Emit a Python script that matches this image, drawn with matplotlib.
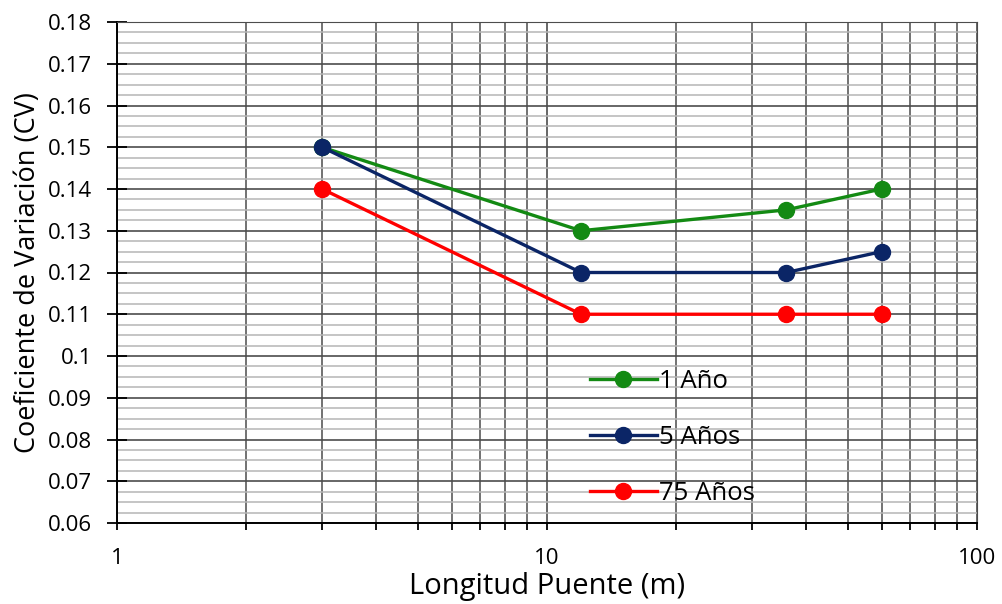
import matplotlib.pyplot as plt
from matplotlib.ticker import FixedLocator, NullFormatter, MultipleLocator, FormatStrFormatter

plt.rcParams['font.family'] = ['Open Sans', 'DejaVu Sans']

longitud = [3, 12, 36, 60]
cv_1 = [0.15, 0.13, 0.135, 0.14]
cv_5 = [0.15, 0.12, 0.12, 0.125]
cv_75 = [0.14, 0.11, 0.11, 0.11]
labels = ['1 Año', '5 Años', '75 Años']
colors = ['#138a13', '#0b2566', '#ff0000']

fig = plt.figure(figsize=(10.02, 6.04), dpi=100)
ax = fig.add_axes([117 / 1002, 1 - 523 / 604, 860 / 1002, 501 / 604])

for y, lbl, c in zip([cv_1, cv_5, cv_75], labels, colors):
    ax.plot(longitud, y, color=c, lw=2.4, marker='o', markersize=11.5, label=lbl, zorder=3)

ax.set_xscale('log')
ax.set_xlim(1, 100)
ax.set_ylim(0.06, 0.18)
ax.xaxis.set_major_locator(FixedLocator([1, 10, 100]))
ax.xaxis.set_major_formatter(FormatStrFormatter('%g'))
ax.xaxis.set_minor_locator(FixedLocator([m * d for d in (1, 10) for m in range(2, 10)]))
ax.xaxis.set_minor_formatter(NullFormatter())
ax.yaxis.set_major_locator(MultipleLocator(0.01))
ax.yaxis.set_major_formatter(FormatStrFormatter('%g'))
ax.yaxis.set_minor_locator(MultipleLocator(0.0025))

ax.grid(which='major', axis='both', color='#4d4d4d', lw=1.2)
ax.grid(which='minor', axis='x', color='#5a5a5a', lw=1.2)
ax.grid(which='minor', axis='y', color='#b5b5b5', lw=1.1)
ax.set_axisbelow(True)

for s in ['top', 'right']:
    ax.spines[s].set_color('#4d4d4d')
for s in ['left', 'bottom']:
    ax.spines[s].set_color('black')
    ax.spines[s].set_linewidth(1.4)

ax.tick_params(axis='y', which='major', direction='inout', length=14, width=1.3, labelsize=16, pad=11)
ax.tick_params(axis='y', which='minor', length=0)
ax.tick_params(axis='x', which='major', direction='out', length=5, width=1.3, labelsize=16, pad=13)
ax.tick_params(axis='x', which='minor', direction='out', length=5, width=1.3)

ax.set_xlabel('Longitud Puente (m)', fontsize=21, labelpad=2)
ax.set_ylabel('Coeficiente de Variación (CV)', fontsize=19.5, labelpad=4)

ax.legend(frameon=False, fontsize=18.5, loc='upper left', bbox_to_anchor=(0.535, 0.333),
          handlelength=2.6, handletextpad=0.08, labelspacing=1.2, borderpad=0)

fig.savefig('out.png', dpi=100)
